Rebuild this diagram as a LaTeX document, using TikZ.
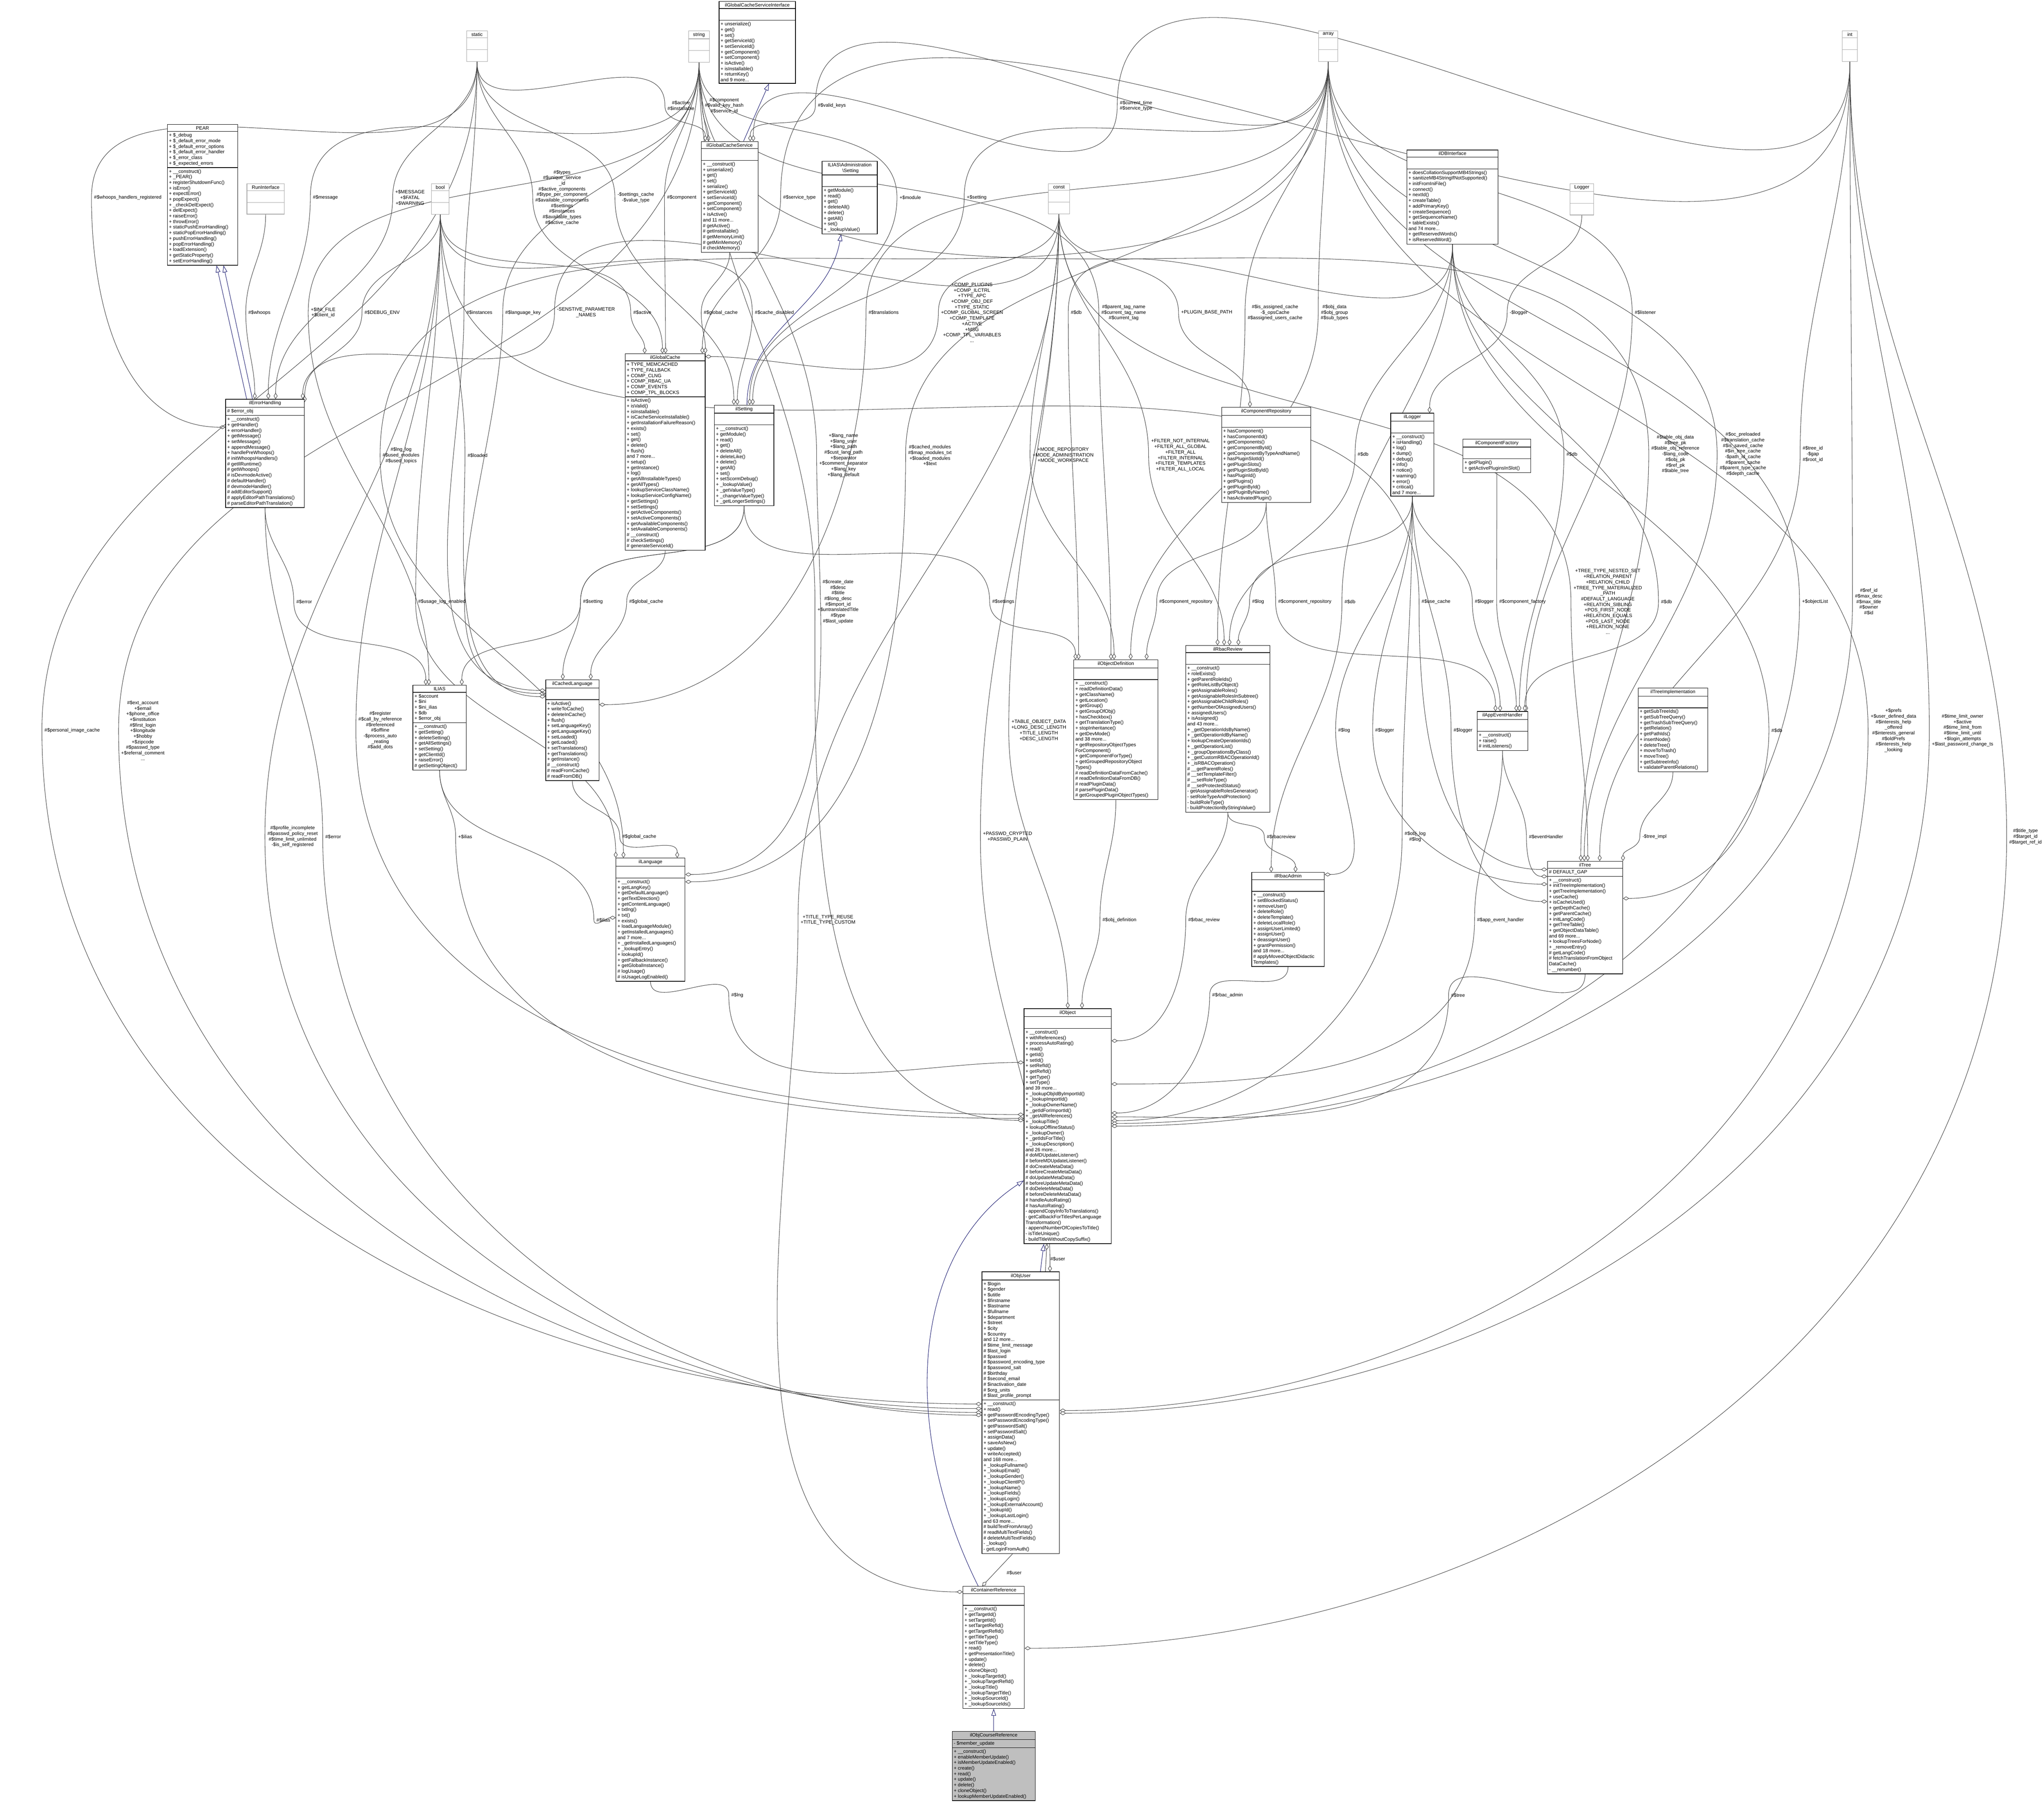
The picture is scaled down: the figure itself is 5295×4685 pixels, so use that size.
\documentclass[tikz,border=0pt]{standalone}
\usepackage{fontspec}
\setmainfont{Liberation Sans}
\usetikzlibrary{shapes.multipart,arrows.meta,calc}
\pgfdeclarelayer{background}
\pgfsetlayers{background,main}
\definecolor{navy}{RGB}{25,25,112}
\definecolor{edgec}{RGB}{64,64,64}
\newcommand\agg[4]{\draw[agg] (#2) to[out=-90,in=90] ($(#3.west)+(-5,0)$) to[out=-90,in=#1] (#4);}
\begin{document}
\begin{tikzpicture}[x=0.25pt,y=-0.25pt,
  every node/.style={font=\fontsize{3.125}{3.625}\selectfont},
  cw/.style={minimum width=#1*0.25pt},
  cls/.style={draw=black, line width=0.33pt, fill=white, rectangle split, rectangle split parts=3,
    rectangle split part align={center,left,left}, rectangle split empty part height=3pt,
    align=left, inner sep=1pt, anchor=north west},
  tbox/.style={cls, draw=black!35, rectangle split empty part height=4pt},
  lbl/.style={align=center, inner sep=0.25pt},
  agg/.style={draw=edgec, line width=0.28pt, -{Diamond[open,fill=white,length=4pt,width=2.5pt]}},
  inh/.style={draw=navy, line width=0.28pt, -{Triangle[open,fill=white,length=4.5pt,width=3pt]}}]
\useasboundingbox (0,0) rectangle (5295,4685);
\begin{pgfonlayer}{background}
\fill[white] (0,0) rectangle (5295,4685);
\end{pgfonlayer}

% ---------- type boxes ----------
\node[tbox, cw=54] (static) at (1208,79) {static\nodepart{two}\nodepart{three}};
\node[tbox, cw=54] (string) at (1783,79) {string\nodepart{two}\nodepart{three}};
\node[tbox, cw=50] (array) at (3415,79) {array\nodepart{two}\nodepart{three}};
\node[tbox, cw=39] (int) at (4772,79) {int\nodepart{two}\nodepart{three}};
\node[tbox, cw=46] (bool) at (1117,475) {bool\nodepart{two}\nodepart{three}};
\node[tbox, cw=55] (const) at (2715,475) {const\nodepart{two}\nodepart{three}};
\node[tbox, cw=97] (runif) at (639,475) {RunInterface\nodepart{two}\nodepart{three}};
\node[tbox, cw=62] (logger) at (4066,475) {Logger\nodepart{two}\nodepart{three}};

% ---------- classes ----------
\node[cls, cw=182] (pear) at (433,322) {PEAR\nodepart{two}+ \$\_debug\\+ \$\_default\_error\_mode\\+ \$\_default\_error\_options\\+ \$\_default\_error\_handler\\+ \$\_error\_class\\+ \$\_expected\_errors\nodepart{three}+ \_\_construct()\\+ \_PEAR()\\+ registerShutdownFunc()\\+ isError()\\+ expectError()\\+ popExpect()\\+ \_checkDelExpect()\\+ delExpect()\\+ raiseError()\\+ throwError()\\+ staticPushErrorHandling()\\+ staticPopErrorHandling()\\+ pushErrorHandling()\\+ popErrorHandling()\\+ loadExtension()\\+ getStaticProperty()\\+ setErrorHandling()};

\node[cls, cw=204] (eh) at (584,1034) {ilErrorHandling\nodepart{two}\# \$error\_obj\nodepart{three}+ \_\_construct()\\+ getHandler()\\+ errorHandler()\\+ getMessage()\\+ setMessage()\\+ appendMessage()\\+ handlePreWhoops()\\\# initWhoopsHandlers()\\\# getIlRuntime()\\\# getWhoops()\\\# isDevmodeActive()\\\# defaultHandler()\\\# devmodeHandler()\\\# addEditorSupport()\\\# applyEditorPathTranslations()\\\# parseEditorPathTranslation()};

\node[cls, cw=207] (gc) at (1619,916) {ilGlobalCache\nodepart{two}+ TYPE\_MEMCACHED\\+ TYPE\_FALLBACK\\+ COMP\_CLNG\\+ COMP\_RBAC\_UA\\+ COMP\_EVENTS\\+ COMP\_TPL\_BLOCKS\nodepart{three}+ isActive()\\+ isValid()\\+ isInstallable()\\+ isCacheServiceInstallable()\\+ getInstallationFailureReason()\\+ exists()\\+ set()\\+ get()\\+ delete()\\+ flush()\\and 7 more...\\+ setup()\\+ getInstance()\\+ log()\\+ getAllInstallableTypes()\\+ getAllTypes()\\+ lookupServiceClassName()\\+ lookupServiceConfigName()\\+ getSettings()\\+ setSettings()\\+ getActiveComponents()\\+ setActiveComponents()\\+ getAvailableComponents()\\+ setAvailableComponents()\\\# \_\_construct()\\\# checkSettings()\\\# generateServiceId()};

\node[cls, cw=198] (gcsi) at (1862,3) {ilGlobalCacheServiceInterface\nodepart{two}\nodepart{three}+ unserialize()\\+ get()\\+ set()\\+ getServiceId()\\+ setServiceId()\\+ getComponent()\\+ setComponent()\\+ isActive()\\+ isInstallable()\\+ returnKey()\\and 9 more...};

\node[cls, cw=147] (gcs) at (1816,366) {ilGlobalCacheService\nodepart{two}\nodepart{three}+ \_\_construct()\\+ unserialize()\\+ get()\\+ set()\\+ serialize()\\+ getServiceId()\\+ setServiceId()\\+ getComponent()\\+ setComponent()\\+ isActive()\\and 11 more...\\\# getActive()\\\# getInstallable()\\\# getMemoryLimit()\\\# getMinMemory()\\\# checkMemory()};

\node[cls, cw=143] (admset) at (2129,417) {ILIAS\textbackslash Administration\\\hspace*{3em}\textbackslash Setting\nodepart{two}\nodepart{three}+ getModule()\\+ read()\\+ get()\\+ deleteAll()\\+ delete()\\+ getAll()\\+ set()\\+ \_lookupValue()};

\node[cls, cw=154] (set) at (1850,1049) {ilSetting\nodepart{two}\nodepart{three}+ \_\_construct()\\+ getModule()\\+ read()\\+ get()\\+ deleteAll()\\+ deleteLike()\\+ delete()\\+ getAll()\\+ set()\\+ setScormDebug()\\+ \_lookupValue()\\+ \_getValueType()\\+ \_changeValueType()\\+ \_getLongerSettings()};

\node[cls, cw=231] (comprep) at (3164,1055) {ilComponentRepository\nodepart{two}\nodepart{three}+ hasComponent()\\+ hasComponentId()\\+ getComponents()\\+ getComponentById()\\+ getComponentByTypeAndName()\\+ hasPluginSlotId()\\+ getPluginSlots()\\+ getPluginSlotById()\\+ hasPluginId()\\+ getPlugins()\\+ getPluginById()\\+ getPluginByName()\\+ hasActivatedPlugin()};

\node[cls, cw=236] (db) at (3644,388) {ilDBInterface\nodepart{two}\nodepart{three}+ doesCollationSupportMB4Strings()\\+ sanitizeMB4StringIfNotSupported()\\+ initFromIniFile()\\+ connect()\\+ nextId()\\+ createTable()\\+ addPrimaryKey()\\+ createSequence()\\+ getSequenceName()\\+ tableExists()\\and 74 more...\\+ getReservedWords()\\+ isReservedWord()};

\node[cls, cw=112] (ilog) at (3602,1070) {ilLogger\nodepart{two}\nodepart{three}+ \_\_construct()\\+ isHandling()\\+ log()\\+ dump()\\+ debug()\\+ info()\\+ notice()\\+ warning()\\+ error()\\+ critical()\\and 7 more...};

\node[cls, cw=176] (compfac) at (3789,1137) {ilComponentFactory\nodepart{two}\nodepart{three}+ getPlugin()\\+ getActivePluginsInSlot()};

\node[cls, cw=138] (ilias) at (1069,1775) {ILIAS\nodepart{two}+ \$account\\+ \$ini\\+ \$ini\_ilias\\+ \$db\\+ \$error\_obj\nodepart{three}+ \_\_construct()\\+ getSetting()\\+ deleteSetting()\\+ getAllSettings()\\+ setSetting()\\+ getClientId()\\+ raiseError()\\\# getSettingObject()};

\node[cls, cw=138] (cl) at (1413,1761) {ilCachedLanguage\nodepart{two}\nodepart{three}+ isActive()\\+ writeToCache()\\+ deleteInCache()\\+ flush()\\+ setLanguageKey()\\+ getLanguageKey()\\+ setLoaded()\\+ getLoaded()\\+ setTranslations()\\+ getTranslations()\\+ getInstance()\\\# \_\_construct()\\\# readFromCache()\\\# readFromDB()};

\node[cls, cw=179] (lng) at (1595,2223) {ilLanguage\nodepart{two}\nodepart{three}+ \_\_construct()\\+ getLangKey()\\+ getDefaultLanguage()\\+ getTextDirection()\\+ getContentLanguage()\\+ txtlng()\\+ txt()\\+ exists()\\+ loadLanguageModule()\\+ getInstalledLanguages()\\and 7 more...\\+ \_getInstalledLanguages()\\+ \_lookupEntry()\\+ lookupId()\\+ getFallbackInstance()\\+ getGlobalInstance()\\\# logUsage()\\\# isUsageLogEnabled()};

\node[cls, cw=218] (od) at (2781,1709) {ilObjectDefinition\nodepart{two}\nodepart{three}+ \_\_construct()\\+ readDefinitionData()\\+ getClassName()\\+ getLocation()\\+ getGroup()\\+ getGroupOfObj()\\+ hasCheckbox()\\+ getTranslationType()\\+ stopInheritance()\\+ getDevMode()\\and 38 more...\\+ getRepositoryObjectTypes\\ForComponent()\\+ getComponentForType()\\+ getGroupedRepositoryObject\\Types()\\\# readDefinitionDataFromCache()\\\# readDefinitionDataFromDB()\\\# readPluginData()\\\# parsePluginData()\\\# getGroupedPluginObjectTypes()};

\node[cls, cw=218] (rr) at (3071,1672) {ilRbacReview\nodepart{two}\nodepart{three}+ \_\_construct()\\+ roleExists()\\+ getParentRoleIds()\\+ getRoleListByObject()\\+ getAssignableRoles()\\+ getAssignableRolesInSubtree()\\+ getAssignableChildRoles()\\+ getNumberOfAssignedUsers()\\+ assignedUsers()\\+ isAssigned()\\and 43 more...\\+ \_getOperationIdsByName()\\+ \_getOperationIdByName()\\+ lookupCreateOperationIds()\\+ \_getOperationList()\\+ \_groupOperationsByClass()\\+ \_getCustomRBACOperationId()\\+ \_isRBACOperation()\\\# \_\_getParentRoles()\\\# \_\_setTemplateFilter()\\\# \_\_setRoleType()\\\# \_\_setProtectedStatus()\\- getAssignableRolesGenerator()\\- setRoleTypeAndProtection()\\- buildRoleType()\\- buildProtectionByStringValue()};

\node[cls, cw=188] (ra) at (3242,2260) {ilRbacAdmin\nodepart{two}\nodepart{three}+ \_\_construct()\\+ setBlockedStatus()\\+ removeUser()\\+ deleteRole()\\+ deleteTemplate()\\+ deleteLocalRole()\\+ assignUserLimited()\\+ assignUser()\\+ deassignUser()\\+ grantPermission()\\and 18 more...\\\# applyMovedObjectDidactic\\Templates()};

\node[cls, cw=131] (aeh) at (3826,1843) {ilAppEventHandler\nodepart{two}\nodepart{three}+ \_\_construct()\\+ raise()\\\# initListeners()};

\node[cls, cw=180] (ti) at (4243,1782) {ilTreeImplementation\nodepart{two}\nodepart{three}+ getSubTreeIds()\\+ getSubTreeQuery()\\+ getTrashSubTreeQuery()\\+ getRelation()\\+ getPathIds()\\+ insertNode()\\+ deleteTree()\\+ moveToTrash()\\+ moveTree()\\+ getSubtreeInfo()\\+ validateParentRelations()};

\node[cls, cw=195] (tree) at (4008,2231) {ilTree\nodepart{two}\# DEFAULT\_GAP\nodepart{three}+ \_\_construct()\\+ initTreeImplementation()\\+ getTreeImplementation()\\+ useCache()\\+ isCacheUsed()\\+ getDepthCache()\\+ getParentCache()\\+ initLangCode()\\+ getTreeTable()\\+ getObjectDataTable()\\and 69 more...\\+ lookupTreesForNode()\\+ \_removeEntry()\\\# getLangCode()\\\# fetchTranslationFromObject\\DataCache()\\- \_\_renumber()};

\node[cls, cw=226] (obj) at (2652,2613) {ilObject\nodepart{two}\nodepart{three}+ \_\_construct()\\+ withReferences()\\+ processAutoRating()\\+ read()\\+ getId()\\+ setId()\\+ setRefId()\\+ getRefId()\\+ getType()\\+ setType()\\and 39 more...\\+ \_lookupObjIdByImportId()\\+ \_lookupImportId()\\+ \_lookupOwnerName()\\+ \_getIdForImportId()\\+ \_getAllReferences()\\+ \_lookupTitle()\\+ lookupOfflineStatus()\\+ \_lookupOwner()\\+ \_getIdsForTitle()\\+ \_lookupDescription()\\and 26 more...\\\# doMDUpdateListener()\\\# beforeMDUpdateListener()\\\# doCreateMetaData()\\\# beforeCreateMetaData()\\\# doUpdateMetaData()\\\# beforeUpdateMetaData()\\\# doDeleteMetaData()\\\# beforeDeleteMetaData()\\\# handleAutoRating()\\\# hasAutoRating()\\- appendCopyInfoToTranslations()\\- getCallbackForTitlesPerLanguage\\Transformation()\\- appendNumberOfCopiesToTitle()\\- isTitleUnique()\\- buildTitleWithoutCopySuffix()};

\node[cls, cw=201] (user) at (2543,3295) {ilObjUser\nodepart{two}+ \$login\\+ \$gender\\+ \$utitle\\+ \$firstname\\+ \$lastname\\+ \$fullname\\+ \$department\\+ \$street\\+ \$city\\+ \$country\\and 12 more...\\\# \$time\_limit\_message\\\# \$last\_login\\\# \$passwd\\\# \$password\_encoding\_type\\\# \$password\_salt\\\# \$birthday\\\# \$second\_email\\\# \$inactivation\_date\\\# \$org\_units\\\# \$last\_profile\_prompt\nodepart{three}+ \_\_construct()\\+ read()\\+ getPasswordEncodingType()\\+ setPasswordEncodingType()\\+ getPasswordSalt()\\+ setPasswordSalt()\\+ assignData()\\+ saveAsNew()\\+ update()\\+ writeAccepted()\\and 168 more...\\+ \_lookupFullname()\\+ \_lookupEmail()\\+ \_lookupGender()\\+ \_lookupClientIP()\\+ \_lookupName()\\+ \_lookupFields()\\+ \_lookupLogin()\\+ \_lookupExternalAccount()\\+ \_lookupId()\\+ \_lookupLastLogin()\\and 63 more...\\\# buildTextFromArray()\\\# readMultiTextFields()\\\# deleteMultiTextFields()\\- \_lookup()\\- getLoginFromAuth()};

\node[cls, cw=159] (cr) at (2494,4110) {ilContainerReference\nodepart{two}\nodepart{three}+ \_\_construct()\\+ getTargetId()\\+ setTargetId()\\+ setTargetRefId()\\+ getTargetRefId()\\+ getTitleType()\\+ setTitleType()\\+ read()\\+ getPresentationTitle()\\+ update()\\+ delete()\\+ cloneObject()\\+ \_lookupTargetId()\\+ \_lookupTargetRefId()\\+ \_lookupTitle()\\+ \_lookupTargetTitle()\\+ \_lookupSourceId()\\+ \_lookupSourceIds()};

\node[cls, cw=215, fill=black!25] (ocr) at (2466,4486) {ilObjCourseReference\nodepart{two}- \$member\_update\nodepart{three}+ \_\_construct()\\+ enableMemberUpdate()\\+ isMemberUpdateEnabled()\\+ create()\\+ read()\\+ update()\\+ delete()\\+ cloneObject()\\+ lookupMemberUpdateEnabled()};

% ---------- labels ----------
\node[lbl] (Lwhr) at (331,512) {\#\$whoops\_handlers\_registered};
\node[lbl] (Lpic) at (187,1893) {\#\$personal\_image\_cache};
\node[lbl] (Lext) at (370,1893) {\#\$ext\_account\\+\$email\\+\$phone\_office\\+\$institution\\\#\$first\_login\\+\$longitude\\+\$hobby\\+\$zipcode\\\#\$passwd\_type\\+\$referral\_comment\\...};
\node[lbl] (Lprof) at (758,2168) {\#\$profile\_incomplete\\\#\$passwd\_policy\_reset\\\#\$time\_limit\_unlimited\\-\$is\_self\_registered};
\node[lbl] (Lerr2) at (863,2168) {\#\$error};
\node[lbl] (Lwh) at (672,810) {\#\$whoops};
\node[lbl] (Lmsg) at (843,512) {\#\$message};
\node[lbl] (Lmfw) at (1062,512) {+\$MESSAGE\\+\$FATAL\\+\$WARNING};
\node[lbl] (Ldbg) at (990,810) {\#\$DEBUG\_ENV};
\node[lbl] (Lini) at (837,810) {+\$INI\_FILE\\+\$client\_id};
\node[lbl] (Lreg) at (985,1893) {\#\$register\\\#\$call\_by\_reference\\\#\$referenced\\\#\$offline\\-\$process\_auto\\\_reating\\\#\$add\_dots};
\node[lbl] (Linst) at (1242,810) {\#\$instances};
\node[lbl] (Llk) at (1355,810) {\#\$language\_key};
\node[lbl] (Lsens) at (1518,810) {-SENSTIVE\_PARAMETER\\\_NAMES};
\node[lbl] (Lact) at (1664,810) {\#\$active};
\node[lbl] (Ltypes) at (1456,512) {\#\$types\\\#\$unique\_service\\\_id\\\#\$active\_components\\\#\$type\_per\_component\\\#\$available\_components\\\#\$settings\\\#\$instances\\\#\$available\_types\\\#\$active\_cache};
\node[lbl] (Lsc) at (1647,512) {-\$settings\_cache\\-\$value\_type};
\node[lbl] (Lcomp) at (1766,512) {\#\$component};
\node[lbl] (Lai) at (1764,274) {\#\$active\\\#\$installable};
\node[lbl] (Lcvs) at (1876,274) {\#\$component\\\#\$valid\_key\_hash\\\#\$service\_id};
\node[lbl] (Lvk) at (2155,274) {\#\$valid\_keys};
\node[lbl] (Lct) at (2943,274) {\#\$current\_time\\\#\$service\_type};
\node[lbl] (Lst) at (2071,512) {\#\$service\_type};
\node[lbl] (Lmod) at (2358,512) {+\$module};
\node[lbl] (Lset) at (2530,512) {+\$setting};
\node[lbl] (Lgc) at (1867,810) {\#\$global\_cache};
\node[lbl] (Lcd) at (2006,810) {\#\$cache\_disabled};
\node[lbl] (Ltr) at (2289,810) {\#\$translations};
\node[lbl] (Lcpl) at (2518,810) {+COMP\_PLUGINS\\+COMP\_ILCTRL\\+TYPE\_APC\\+COMP\_OBJ\_DEF\\+TYPE\_STATIC\\+COMP\_GLOBAL\_SCREEN\\+COMP\_TEMPLATE\\+ACTIVE\\+MSG\\+COMP\_TPL\_VARIABLES\\...};
\node[lbl] (Ldb1) at (2788,810) {\#\$db};
\node[lbl] (Lptn) at (2911,810) {\#\$parent\_tag\_name\\\#\$current\_tag\_name\\\#\$current\_tag};
\node[lbl] (Lpbp) at (3126,810) {+PLUGIN\_BASE\_PATH};
\node[lbl] (Liac) at (3303,810) {\#\$is\_assigned\_cache\\-\$\_opsCache\\\#\$assigned\_users\_cache};
\node[lbl] (Lobd) at (3457,810) {\#\$obj\_data\\\#\$obj\_group\\\#\$sub\_types};
\node[lbl] (Llogger) at (3934,810) {-\$logger};
\node[lbl] (Llist) at (4262,810) {\#\$listener};
\node[lbl] (Llangs) at (2185,1180) {+\$lang\_name\\+\$lang\_user\\+\$lang\_path\\\#\$cust\_lang\_path\\+\$separator\\+\$comment\_separator\\+\$lang\_key\\+\$lang\_default};
\node[lbl] (Lcached) at (2409,1180) {\#\$cached\_modules\\\#\$map\_modules\_txt\\+\$loaded\_modules\\+\$text};
\node[lbl] (Llnglog) at (1039,1180) {\#\$lng\_log\\\#\$used\_modules\\\#\$used\_topics};
\node[lbl] (Lload) at (1237,1180) {\#\$loaded};
\node[lbl] (Lmr) at (2754,1180) {+MODE\_REPOSITORY\\+MODE\_ADMINISTRATION\\+MODE\_WORKSPACE};
\node[lbl] (Lfilt) at (3058,1180) {+FILTER\_NOT\_INTERNAL\\+FILTER\_ALL\_GLOBAL\\+FILTER\_ALL\\+FILTER\_INTERNAL\\+FILTER\_TEMPLATES\\+FILTER\_ALL\_LOCAL};
\node[lbl] (Ldb2) at (3531,1177) {\#\$db};
\node[lbl] (Ldb3) at (4072,1177) {\#\$db};
\node[lbl] (Ltod) at (4340,1177) {\#\$table\_obj\_data\\\#\$tree\_pk\\\#\$table\_obj\_reference\\-\$lang\_code\\\#\$obj\_pk\\\#\$ref\_pk\\\#\$table\_tree};
\node[lbl] (Locp) at (4515,1177) {\#\$oc\_preloaded\\\#\$translation\_cache\\\#\$is\_saved\_cache\\\#\$in\_tree\_cache\\-\$path\_id\_cache\\\#\$parent\_cache\\\#\$parent\_type\_cache\\\#\$depth\_cache};
\node[lbl] (Ltid) at (4696,1177) {\#\$tree\_id\\-\$gap\\\#\$root\_id};
\node[lbl] (Lerr) at (788,1559) {\#\$error};
\node[lbl] (Lule) at (1145,1559) {\#\$usage\_log\_enabled};
\node[lbl] (Lset2) at (1536,1559) {\#\$setting};
\node[lbl] (Lgc2) at (1674,1559) {\#\$global\_cache};
\node[lbl] (Lcdate) at (2171,1559) {\#\$create\_date\\\#\$desc\\\#\$title\\\#\$long\_desc\\\#\$import\_id\\+\$untranslatedTitle\\\#\$type\\\#\$last\_update};
\node[lbl] (Lsets) at (2599,1559) {\#\$settings};
\node[lbl] (Lcr) at (3072,1559) {\#\$component\_repository};
\node[lbl] (Llog) at (3259,1559) {\#\$log};
\node[lbl] (Lcr2) at (3380,1559) {\#\$component\_repository};
\node[lbl] (Ldb4) at (3497,1559) {\#\$db};
\node[lbl] (Luc) at (3720,1559) {\#\$use\_cache};
\node[lbl] (Llg) at (3845,1559) {\#\$logger};
\node[lbl] (Lcf) at (3944,1559) {\#\$component\_factory};
\node[lbl] (Ltt) at (4165,1559) {+TREE\_TYPE\_NESTED\_SET\\+RELATION\_PARENT\\+RELATION\_CHILD\\+TREE\_TYPE\_MATERIALIZED\\\_PATH\\\#DEFAULT\_LANGUAGE\\+RELATION\_SIBLING\\+POS\_FIRST\_NODE\\+RELATION\_EQUALS\\+POS\_LAST\_NODE\\+RELATION\_NONE\\...};
\node[lbl] (Ldb5) at (4317,1559) {\#\$db};
\node[lbl] (Lol) at (4702,1559) {+\$objectList};
\node[lbl] (Lrid) at (4841,1559) {\#\$ref\_id\\\#\$max\_desc\\\#\$max\_title\\\#\$owner\\\#\$id};
\node[lbl] (Llog2) at (3482,1893) {\#\$log};
\node[lbl] (Llg2) at (3587,1893) {\#\$logger};
\node[lbl] (Llg3) at (3790,1893) {\#\$logger};
\node[lbl] (Ldb6) at (4603,1893) {\#\$db};
\node[lbl] (Lprefs) at (4905,1893) {+\$prefs\\+\$user\_defined\_data\\\#\$interests\_help\\\_offered\\\#\$interests\_general\\\#\$oldPrefs\\\#\$interests\_help\\\_looking};
\node[lbl] (Ltlo) at (5084,1893) {\#\$time\_limit\_owner\\+\$active\\\#\$time\_limit\_from\\\#\$time\_limit\_until\\+\$login\_attempts\\+\$last\_password\_change\_ts};
\node[lbl] (Ltabd) at (2691,1893) {+TABLE\_OBJECT\_DATA\\+LONG\_DESC\_LENGTH\\+TITLE\_LENGTH\\+DESC\_LENGTH};
\node[lbl] (Lrbr) at (3319,2168) {\#\$rbacreview};
\node[lbl] (Lobl) at (3666,2168) {\#\$obj\_log\\\#\$log};
\node[lbl] (Leh) at (4005,2168) {\#\$eventHandler};
\node[lbl] (Lti) at (4286,2168) {-\$tree\_impl};
\node[lbl] (Lttl) at (5247,2168) {\#\$title\_type\\\#\$target\_id\\\#\$target\_ref\_id};
\node[lbl] (Lilias) at (1205,2168) {+\$ilias};
\node[lbl] (Lgc3) at (1656,2168) {\#\$global\_cache};
\node[lbl] (Lpw) at (2610,2168) {+PASSWD\_CRYPTED\\+PASSWD\_PLAIN};
\node[lbl] (Lilias2) at (1563,2384) {\#\$ilias};
\node[lbl] (Lod) at (2900,2384) {\#\$obj\_definition};
\node[lbl] (Lrr) at (3119,2384) {\#\$rbac\_review};
\node[lbl] (Lttr) at (2145,2384) {+TITLE\_TYPE\_REUSE\\+TITLE\_TYPE\_CUSTOM};
\node[lbl] (Laeh) at (3887,2384) {\#\$app\_event\_handler};
\node[lbl] (Llng2) at (1910,2579) {\#\$lng};
\node[lbl] (Lra) at (3180,2579) {\#\$rbac\_admin};
\node[lbl] (Ltree) at (3777,2579) {\#\$tree};
\node[lbl] (Luser1) at (2740,3262) {\#\$user};
\node[lbl] (Luser2) at (2627,4076) {\#\$user};

\begin{pgfonlayer}{background}
% ---------- inheritance ----------
\draw[inh] ($(eh.north west)+(55,0)$) -- ($(pear.south west)+(128,0)$);
\draw[inh] ($(eh.north west)+(70,0)$) -- ($(pear.south west)+(146,0)$);
\draw[inh] ($(gcs.north west)+(110,0)$) -- ($(gcsi.south west)+(130,0)$);
\draw[inh] ($(set.north west)+(85,0)$) to[out=90,in=-100] ($(admset.south west)+(50,0)$);
\draw[inh] ($(user.north west)+(152,0)$) -- ($(obj.south west)+(52,0)$);
\draw[inh] ($(cr.north west)+(40,0)$) .. controls (2330,3700) and (2360,3250) .. ($(obj.south west)+(0,-164)$);
\draw[inh] (ocr.north) -- (cr.south);

% ---------- aggregations ----------
\agg{180}{static}{Lwhr}{$(eh.north west)+(0,73)$}
\agg{180}{static}{Lpic}{$(user.north west)+(0,343)$}
\agg{180}{string}{Lext}{$(user.north west)+(0,355)$}
\agg{180}{bool}{Lprof}{$(user.north west)+(0,365)$}
\agg{180}{eh}{Lerr2}{$(user.north west)+(0,372)$}
\agg{90}{runif}{Lwh}{$(eh.north west)+(76,0)$}
\agg{90}{string}{Lmsg}{$(eh.north west)+(111,0)$}
\agg{90}{static}{Lmfw}{$(eh.north west)+(130,0)$}
\agg{90}{bool}{Ldbg}{$(eh.north east)+(-5,0)$}
\agg{90}{const}{Lsens}{$(eh.north east)+(0,8)$}
\agg{90}{string}{Lini}{$(ilias.north west)+(42,0)$}
\agg{180}{bool}{Lreg}{$(obj.north west)+(0,275)$}
\agg{180}{static}{Linst}{$(cl.north west)+(0,28)$}
\agg{180}{string}{Llk}{$(cl.north west)+(0,36)$}
\agg{180}{bool}{Lload}{$(cl.north west)+(0,44)$}
\agg{90}{bool}{Lact}{$(gc.north west)+(51,0)$}
\agg{90}{static}{Ltypes}{$(gc.north west)+(97,0)$}
\agg{90}{string}{Lcomp}{$(gc.north west)+(105,0)$}
\agg{90}{int}{Lst}{$(gc.north east)+(-8,0)$}
\agg{90}{gcs}{Lgc}{$(gc.north east)+(0,0)$}
\agg{0}{const}{Lcpl}{$(gc.north east)+(0,8)$}
\agg{90}{static}{Lai}{$(gcs.north west)+(11,0)$}
\agg{90}{string}{Lcvs}{$(gcs.north west)+(19,0)$}
\agg{90}{array}{Lvk}{$(gcs.north east)+(-21,0)$}
\agg{90}{int}{Lct}{$(gcs.north east)+(-13,0)$}
\agg{90}{static}{Lsc}{$(set.north west)+(51,0)$}
\agg{90}{bool}{Lcd}{$(set.north west)+(60,0)$}
\agg{90}{string}{Lmod}{$(set.north west)+(92,0)$}
\agg{90}{array}{Lset}{$(set.north west)+(100,0)$}
\agg{0}{array}{Ltr}{$(cl.north east)+(0,65)$}
\agg{90}{db}{Ldb1}{$(od.north west)+(13,0)$}
\agg{90}{string}{Lptn}{$(od.north west)+(97,0)$}
\agg{90}{const}{Lmr}{$(od.north west)+(105,0)$}
\agg{90}{array}{Lobd}{$(od.north west)+(148,0)$}
\agg{90}{comprep}{Lcr}{$(od.north east)+(-30,0)$}
\agg{90}{set}{Lsets}{$(od.north west)+(5,0)$}
\agg{90}{const}{Lpbp}{$(comprep.north west)+(74,0)$}
\agg{90}{array}{Liac}{$(rr.north west)+(83,0)$}
\agg{90}{const}{Lfilt}{$(rr.north west)+(100,0)$}
\agg{90}{db}{Ldb2}{$(rr.north west)+(114,0)$}
\agg{90}{ilog}{Llog}{$(rr.north west)+(137,0)$}
\agg{90}{logger}{Llogger}{$(ilog.north east)+(-12,0)$}
\agg{90}{array}{Llist}{$(aeh.north east)+(-5,0)$}
\agg{90}{comprep}{Lcr2}{$(aeh.north west)+(48,0)$}
\agg{90}{ilog}{Llg}{$(aeh.north west)+(60,0)$}
\agg{90}{compfac}{Lcf}{$(aeh.north west)+(102,0)$}
\agg{90}{db}{Ldb3}{$(aeh.north west)+(110,0)$}
\agg{90}{db}{Ldb5}{$(aeh.north west)+(124,0)$}
\agg{0}{string}{Llangs}{$(lng.north east)+(0,43)$}
\agg{0}{array}{Lcached}{$(lng.north east)+(0,62)$}
\agg{90}{array}{Llnglog}{$(lng.north west)+(20,0)$}
\agg{90}{bool}{Lule}{$(lng.north west)+(0,0)$}
\agg{90}{cl}{Lgc3}{$(lng.north east)+(-21,0)$}
\agg{180}{ilias}{Lilias2}{$(lng.north west)+(0,155)$}
\agg{180}{ilias}{Lilias}{$(obj.north west)+(0,285)$}
\agg{90}{eh}{Lerr}{$(ilias.north west)+(34,0)$}
\agg{90}{set}{Lset2}{$(cl.north west)+(45,0)$}
\agg{90}{gc}{Lgc2}{$(cl.north east)+(-22,0)$}
\agg{90}{set}{Lset2}{$(ilias.north east)+(-12,0)$}
\agg{180}{string}{Lcdate}{$(obj.north west)+(0,290)$}
\agg{180}{lng}{Llng2}{$(obj.north west)+(0,140)$}
\agg{90}{const}{Ltabd}{$(obj.north west)+(114,0)$}
\agg{90}{od}{Lod}{$(obj.north west)+(151,0)$}
\agg{0}{rr}{Lrr}{$(obj.north east)+(0,84)$}
\agg{0}{aeh}{Laeh}{$(obj.north east)+(0,196)$}
\agg{0}{ra}{Lra}{$(obj.north east)+(0,271)$}
\agg{0}{tree}{Ltree}{$(obj.north east)+(0,281)$}
\agg{0}{ilog}{Lobl}{$(obj.north east)+(0,291)$}
\agg{0}{array}{Lol}{$(obj.north east)+(0,298)$}
\agg{0}{int}{Lrid}{$(obj.north east)+(0,305)$}
\agg{90}{db}{Ldb4}{$(ra.north west)+(51,0)$}
\agg{90}{rr}{Lrbr}{$(ra.north west)+(114,0)$}
\agg{0}{ilog}{Llog2}{$(ra.north east)+(0,6)$}
\agg{90}{string}{Ltod}{$(tree.north west)+(87,0)$}
\agg{90}{array}{Locp}{$(tree.north west)+(96,0)$}
\agg{90}{const}{Ltt}{$(tree.north west)+(105,0)$}
\agg{90}{int}{Ltid}{$(tree.north west)+(136,0)$}
\agg{90}{ti}{Lti}{$(tree.north east)+(0,0)$}
\agg{180}{bool}{Luc}{$(tree.north west)+(0,22)$}
\agg{180}{aeh}{Leh}{$(tree.north west)+(0,40)$}
\agg{180}{ilog}{Llg2}{$(tree.north west)+(0,60)$}
\agg{180}{ilog}{Llg3}{$(tree.north west)+(0,105)$}
\agg{0}{db}{Ldb6}{$(tree.north east)+(0,97)$}
\agg{90}{const}{Lpw}{$(user.north west)+(177,0)$}
\agg{0}{array}{Lprefs}{$(user.north east)+(0,360)$}
\agg{0}{int}{Ltlo}{$(user.north east)+(0,367)$}
\agg{180}{const}{Lttr}{$(cr.north west)+(0,15)$}
\agg{0}{int}{Lttl}{$(cr.north east)+(0,161)$}
\draw[agg] ($(user.north west)+(165,0)$) -- ($(obj.south west)+(60,0)$);
\draw[agg] ($(user.south west)+(80,0)$) -- ($(cr.north east)+(-110,0)$);
\end{pgfonlayer}
\end{tikzpicture}
\end{document}
